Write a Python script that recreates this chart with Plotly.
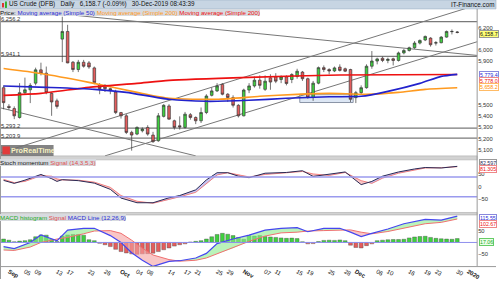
import pandas as pd
import plotly.graph_objects as go

# ---------------- data ----------------
dates = [d for d in pd.bdate_range("2019-08-30", "2020-01-02")
         if d.strftime("%Y-%m-%d") not in ("2019-12-25", "2020-01-01")]
date_str = [d.strftime("%Y-%m-%d") for d in dates]

opens = [5659, 5490, 5470, 5390, 5614, 5640, 5700, 5820, 5790, 5608, 5540, 6098, 6167, 5889, 5823, 5889, 5883,
         5838, 5683, 5680, 5650, 5620, 5434, 5405, 5255, 5240, 5270, 5300, 5231, 5180, 5400, 5494, 5360, 5315,
         5300, 5415, 5390, 5360, 5435, 5590, 5630, 5689, 5600, 5570, 5500, 5405, 5638, 5675, 5727, 5644, 5748,
         5757, 5733, 5757, 5733, 5760, 5800, 5740, 5570, 5700, 5840, 5823, 5810, 5845, 5830, 5823, 5569, 5614,
         5659, 5853, 5900, 5925, 5905, 5920, 5905, 5973, 5995, 6020, 6062, 6090, 6107, 6062, 6065, 6116, 6165, 6162]
highs = [5680, 5510, 5490, 5700, 5750, 5700, 5840, 5885, 5850, 5620, 5560, 6300, 6227, 5900, 5910, 5910, 5900,
         5850, 5700, 5690, 5660, 5640, 5440, 5420, 5270, 5310, 5300, 5320, 5260, 5430, 5510, 5510, 5370, 5400,
         5440, 5430, 5400, 5480, 5600, 5660, 5700, 5700, 5610, 5590, 5510, 5650, 5700, 5760, 5770, 5770, 5780,
         5790, 5770, 5770, 5790, 5830, 5810, 5750, 5720, 5850, 5860, 5835, 5850, 5870, 5840, 5830, 5630, 5680,
         5870, 5990, 5930, 5940, 5930, 5930, 5985, 6010, 6030, 6080, 6095, 6130, 6115, 6080, 6125, 6175, 6185, 6170]
lows = [5464, 5460, 5375, 5380, 5600, 5520, 5680, 5770, 5600, 5405, 5470, 5890, 5880, 5800, 5800, 5840, 5830,
        5690, 5600, 5620, 5600, 5420, 5380, 5240, 5090, 5230, 5255, 5225, 5160, 5170, 5390, 5370, 5280, 5280,
        5290, 5370, 5330, 5340, 5420, 5580, 5620, 5590, 5530, 5480, 5390, 5400, 5610, 5660, 5650, 5630, 5640,
        5700, 5700, 5680, 5700, 5740, 5720, 5560, 5540, 5690, 5800, 5780, 5800, 5805, 5800, 5530, 5520, 5600,
        5650, 5830, 5870, 5890, 5880, 5860, 5895, 5960, 5985, 6010, 6050, 6080, 6030, 6040, 6060, 6110, 6140, 6150]
closes = [5524, 5480, 5405, 5614, 5640, 5680, 5820, 5790, 5614, 5530, 5490, 6167, 5883, 5823, 5889, 5853, 5847,
          5704, 5650, 5650, 5638, 5434, 5405, 5255, 5231, 5300, 5285, 5240, 5172, 5405, 5500, 5375, 5300, 5305,
          5420, 5390, 5360, 5435, 5584, 5630, 5675, 5600, 5570, 5500, 5405, 5638, 5675, 5727, 5680, 5718, 5710,
          5718, 5757, 5697, 5778, 5808, 5740, 5570, 5700, 5840, 5823, 5810, 5838, 5815, 5808, 5554, 5614, 5659,
          5853, 5900, 5919, 5905, 5915, 5905, 5973, 5995, 6020, 6062, 6086, 6122, 6047, 6065, 6116, 6167, 6167, 6158.7]

# moving averages (read at sample dates)
ma50_dates = ["2019-08-30", "2019-09-11", "2019-09-24", "2019-10-02", "2019-10-14", "2019-10-23", "2019-11-04",
              "2019-11-13", "2019-11-25", "2019-12-03", "2019-12-10", "2019-12-18", "2019-12-24", "2019-12-30"]
ma50 = [5675, 5662, 5644, 5617, 5554, 5536, 5545, 5563, 5577, 5581, 5626, 5698, 5761, 5779.4]
ma200a_dates = ["2019-08-30", "2019-09-10", "2019-09-23", "2019-10-04", "2019-10-14", "2019-10-25", "2019-11-06",
                "2019-11-15", "2019-11-25", "2019-12-04", "2019-12-12", "2019-12-19", "2019-12-30"]
ma200a = [5832, 5787, 5707, 5617, 5563, 5554, 5581, 5599, 5608, 5599, 5617, 5644, 5658.2]
ma200b_dates = ["2019-08-30", "2019-09-10", "2019-09-23", "2019-10-04", "2019-10-14", "2019-11-04",
                "2019-11-27", "2019-12-30"]
ma200b = [5590, 5608, 5662, 5698, 5725, 5752, 5774, 5778.0]

# horizontal levels and trend lines
levels = [6256.2, 5941.1, 5293.2, 5203.9]
trend_lines = [  # (start date, start price, end date, end price)
    ("2019-09-12", 6334, "2020-01-03", 5949),
    ("2019-08-29", 5065, "2020-01-03", 6411),
    ("2019-09-26", 5043, "2020-01-03", 6078),
    ("2019-08-29", 5482, "2019-10-21", 5043),
]
box_zone = ("2019-11-18", 5525, "2019-11-29", 5600)

# stochastic momentum
stoch_dates = ["2019-08-30", "2019-09-03", "2019-09-05", "2019-09-10", "2019-09-12", "2019-09-13", "2019-09-16",
               "2019-09-19", "2019-09-24", "2019-09-27", "2019-10-01", "2019-10-04", "2019-10-09", "2019-10-14",
               "2019-10-16", "2019-10-21", "2019-10-23", "2019-10-25", "2019-10-29", "2019-10-31", "2019-11-04",
               "2019-11-07", "2019-11-13", "2019-11-18", "2019-11-20", "2019-11-25", "2019-11-28", "2019-12-03",
               "2019-12-05", "2019-12-09", "2019-12-12", "2019-12-17", "2019-12-19", "2019-12-24", "2019-12-30"]
stoch_main = [26, 14, 27, 50, 33, 22, 29, 25, 15, -10, -45, -64, -64, -44, -35, -12, 28, 57, 57, 43, 37, 55, 58,
              65, 42, 50, 60, 9, 22, 43, 60, 72, 78, 76, 82.597]
stoch_signal = [30, 17, 22, 45, 43, 32, 28, 27, 19, -2, -35, -58, -66, -52, -40, -22, 12, 48, 57, 50, 40, 50, 57,
                62, 52, 46, 58, 25, 14, 35, 55, 68, 76, 77, 81.305]

# MACD
macd_dates = ["2019-08-30", "2019-09-03", "2019-09-06", "2019-09-10", "2019-09-13", "2019-09-17", "2019-09-20",
              "2019-09-24", "2019-09-27", "2019-10-01", "2019-10-03", "2019-10-07", "2019-10-09", "2019-10-14",
              "2019-10-16", "2019-10-21", "2019-10-23", "2019-10-25", "2019-10-30", "2019-11-04", "2019-11-07",
              "2019-11-12", "2019-11-15", "2019-11-19", "2019-11-22", "2019-11-27", "2019-11-29", "2019-12-03",
              "2019-12-05", "2019-12-10", "2019-12-13", "2019-12-19", "2019-12-24", "2019-12-30"]
macd_line = [-18, -27, 0, 33, 7, 54, 62, 62, 30, 0, -45, -78, -105, -83, -80, -68, -48, -5, 15, 32, 54, 62, 65,
             47, 62, 62, 45, 26, 40, 59, 82, 101, 98, 115.55]
macd_signal = [-33, -35, -20, 0, 15, 22, 38, 50, 52, 40, 10, -25, -55, -75, -82, -78, -68, -50, -25, 5, 28, 42,
               45, 50, 52, 55, 55, 45, 38, 48, 62, 82, 88, 102.67]
macd_hist = [15, 10, 3, 6, 8, 12, 25, 33, 32, 14, 4, 28, 33, 35, 35, 32, 12, 8, -4, -10, -18, -30, -40, -46, -50,
             -52, -50, -49, -47, -40, -32, -24, -16, -10, -6, 2, 5, 8, 15, 25, 35, 40, 36, 30, 22, 14, 30, 28, 30,
             26, 24, 22, 20, 18, 19, 17, 3, -6, -5, 4, 9, 10, 9, 11, 8, -12, -22, -24, -14, -6, 8, 10, 12, 13, 13,
             14, 20, 24, 26, 27, 22, 18, 16, 15, 14, 17.06]

tick_dates = ["2019-09-02", "2019-09-05", "2019-09-09", "2019-09-13", "2019-09-17", "2019-09-23", "2019-09-26",
              "2019-10-01", "2019-10-04", "2019-10-08", "2019-10-14", "2019-10-17", "2019-10-21", "2019-10-25",
              "2019-10-29", "2019-11-01", "2019-11-07", "2019-11-11", "2019-11-15", "2019-11-19", "2019-11-25",
              "2019-11-28", "2019-12-02", "2019-12-06", "2019-12-10", "2019-12-16", "2019-12-19", "2019-12-23",
              "2019-12-30", "2020-01-02"]
tick_text = ["<b>Sep</b>", "05", "09", "13", "17", "23", "26", "<b>Oct</b>", "04", "08", "14", "17", "21", "25",
             "29", "<b>Nov</b>", "07", "11", "15", "19", "25", "28", "<b>Dec</b>", "06", "10", "16", "19", "23",
             "30", "<b>2020</b>"]
# price tick labels visible on the axis (others are hidden behind value boxes)
price_ticks = [5100, 5200, 5300, 5400, 5500, 5900, 6000, 6200]

# ---------------- helpers ----------------
pos = {d: i for i, d in enumerate(date_str)}


def ix(d):
    if d in pos:
        return pos[d]
    return float(len(pd.bdate_range("2019-08-30", d)) - 1 - (1 if d > "2019-12-25" else 0))


def PX(x):
    return x / 500.0


def PY(y):
    return 1 - y / 281.0


def fill_polys(xs, a, b):
    up_x, up_y, dn_x, dn_y = [], [], [], []
    for k in range(len(xs) - 1):
        x0, x1 = xs[k], xs[k + 1]
        a0, a1, b0, b1 = a[k], a[k + 1], b[k], b[k + 1]
        d0, d1 = a0 - b0, a1 - b1
        if d0 * d1 >= 0:
            tx, ty = (up_x, up_y) if (d0 + d1) >= 0 else (dn_x, dn_y)
            tx += [x0, x1, x1, x0, x0, None]
            ty += [a0, a1, b1, b0, a0, None]
        else:
            t = d0 / (d0 - d1)
            xc = x0 + t * (x1 - x0)
            yc = a0 + t * (a1 - a0)
            tx, ty = (up_x, up_y) if d0 > 0 else (dn_x, dn_y)
            tx += [x0, xc, x0, x0, None]
            ty += [a0, yc, b0, a0, None]
            tx, ty = (up_x, up_y) if d1 > 0 else (dn_x, dn_y)
            tx += [xc, x1, x1, xc, None]
            ty += [yc, a1, b1, yc, None]
    return up_x, up_y, dn_x, dn_y


N = len(closes)
xi = list(range(N))
FONT = "Liberation Sans, Arial, sans-serif"

fig = go.Figure()

fig.add_shape(type="rect", xref="x", yref="y", x0=ix(box_zone[0]) - 0.5, x1=ix(box_zone[2]) + 0.5,
              y0=box_zone[1], y1=box_zone[3], fillcolor="#dce6f4", line=dict(color="#8a94a6", width=1),
              layer="below")
for lv in levels:
    fig.add_shape(type="line", xref="x domain", yref="y", x0=0, x1=1, y0=lv, y1=lv,
                  line=dict(color="#7a7a7a", width=1.3), layer="below")
for d0, p0, d1, p1 in trend_lines:
    fig.add_shape(type="line", xref="x", yref="y", x0=ix(d0), y0=p0, x1=ix(d1), y1=p1,
                  line=dict(color="#777777", width=1), layer="below")

fig.add_trace(go.Scatter(x=[ix(d) for d in ma200a_dates], y=ma200a, mode="lines", yaxis="y",
                         line=dict(color="#ff9a1f", width=1.6, shape="spline", smoothing=0.6)))
fig.add_trace(go.Scatter(x=[ix(d) for d in ma200b_dates], y=ma200b, mode="lines", yaxis="y",
                         line=dict(color="#ee1111", width=1.6, shape="spline", smoothing=0.6)))
fig.add_trace(go.Scatter(x=[ix(d) for d in ma50_dates], y=ma50, mode="lines", yaxis="y",
                         line=dict(color="#2222cc", width=1.6, shape="spline", smoothing=0.6)))

fig.add_trace(go.Candlestick(x=xi, open=opens, high=highs, low=lows, close=closes, yaxis="y",
                             increasing=dict(line=dict(color="#3a3a3a", width=0.7), fillcolor="#3fd03f"),
                             decreasing=dict(line=dict(color="#3a3a3a", width=0.7), fillcolor="#e45d5d"),
                             whiskerwidth=0))

sx = [ix(d) for d in stoch_dates]
ux, uy, dx, dy = fill_polys(sx, stoch_main, stoch_signal)
fig.add_trace(go.Scatter(x=ux, y=uy, yaxis="y2", fill="toself", fillcolor="rgba(150,150,235,0.55)",
                         line=dict(width=0), mode="lines", hoverinfo="skip"))
fig.add_trace(go.Scatter(x=dx, y=dy, yaxis="y2", fill="toself", fillcolor="rgba(245,160,160,0.6)",
                         line=dict(width=0), mode="lines", hoverinfo="skip"))
fig.add_trace(go.Scatter(x=sx, y=stoch_signal, yaxis="y2", mode="lines",
                         line=dict(color="#f08080", width=1)))
fig.add_trace(go.Scatter(x=sx, y=stoch_main, yaxis="y2", mode="lines",
                         line=dict(color="#2a2a55", width=1)))
for lv in (40, -40):
    fig.add_shape(type="line", xref="x domain", yref="y2", x0=0, x1=1, y0=lv, y1=lv,
                  line=dict(color="#9a9aee", width=1.5))

fig.add_shape(type="line", xref="x domain", yref="y3", x0=0, x1=1, y0=0, y1=0,
              line=dict(color="#8f8fee", width=1))
fig.add_trace(go.Bar(x=xi, y=macd_hist, yaxis="y3", width=0.72,
                     marker=dict(color=["#3fd03f" if v >= 0 else "#e45d5d" for v in macd_hist],
                                 line=dict(color="#4a4a4a", width=0.4))))
mx = [ix(d) for d in macd_dates]
ux, uy, dx, dy = fill_polys(mx, macd_line, macd_signal)
fig.add_trace(go.Scatter(x=ux, y=uy, yaxis="y3", fill="toself", fillcolor="rgba(140,235,140,0.6)",
                         line=dict(width=0), mode="lines", hoverinfo="skip"))
fig.add_trace(go.Scatter(x=dx, y=dy, yaxis="y3", fill="toself", fillcolor="rgba(245,160,160,0.6)",
                         line=dict(width=0), mode="lines", hoverinfo="skip"))
fig.add_trace(go.Scatter(x=mx, y=macd_signal, yaxis="y3", mode="lines", line=dict(color="#f07070", width=1)))
fig.add_trace(go.Scatter(x=mx, y=macd_line, yaxis="y3", mode="lines", line=dict(color="#4646f0", width=1.2)))

# ---------------- layout ----------------
y_main = [6200 - (157 - 28) / 0.1115, 6200 + (28 - 9) / 0.1115]
tf = dict(family=FONT, size=5.8, color="#333333")
fig.update_layout(
    width=500, height=281, margin=dict(l=0, r=0, t=0, b=0),
    paper_bgcolor="white", plot_bgcolor="white", showlegend=False, bargap=0.3,
    xaxis=dict(domain=[0, 481 / 500], range=[-0.67, 88.73], anchor="y3", showgrid=False, zeroline=False,
               tickvals=[ix(d) for d in tick_dates], ticktext=tick_text,
               tickfont=dict(family=FONT, size=6, color="#222"),
               ticks="", ticklen=0, rangeslider=dict(visible=False), fixedrange=True),
    yaxis=dict(domain=[PY(157), PY(9)], range=y_main, side="right", anchor="x", showgrid=False, zeroline=False,
               tickvals=price_ticks, ticktext=[f"{v:,}" for v in price_ticks], tickfont=tf, ticks=""),
    yaxis2=dict(domain=[PY(214), PY(161)], range=[-103.2, 108.8], side="right", anchor="x", showgrid=False,
                zeroline=False, tickvals=[50, 0, -50], tickfont=tf, ticks=""),
    yaxis3=dict(domain=[PY(268), PY(216)], range=[-103.5, 122.6], side="right", anchor="x", showgrid=False,
                zeroline=False, tickvals=[50, -50], tickfont=tf, ticks=""),
)

shapes_px = [
    dict(x0=0, x1=500, y0=0, y1=9, fill="#c7d5e3", line="#9fb2c6"),
    dict(x0=0, x1=481, y0=157, y1=161, fill="#d2d2d2", line="#a9a9a9"),
    dict(x0=0, x1=481, y0=214, y1=216.5, fill="#d2d2d2", line="#a9a9a9"),
]
for s in shapes_px:
    fig.add_shape(type="rect", xref="paper", yref="paper", x0=PX(s["x0"]), x1=PX(s["x1"]),
                  y0=PY(s["y1"]), y1=PY(s["y0"]), fillcolor=s["fill"], line=dict(color=s["line"], width=0.6))
fig.add_shape(type="line", xref="paper", yref="paper", x0=PX(481), x1=PX(481), y0=PY(268), y1=PY(9),
              line=dict(color="#9a9a9a", width=1))
fig.add_shape(type="line", xref="paper", yref="paper", x0=0, x1=PX(500), y0=PY(268.5), y1=PY(268.5),
              line=dict(color="#9a9a9a", width=1))
fig.add_shape(type="line", xref="paper", yref="paper", x0=PX(0.5), x1=PX(0.5), y0=PY(281), y1=PY(9),
              line=dict(color="#9a9a9a", width=1))
fig.add_shape(type="rect", xref="paper", yref="paper", x0=PX(2), x1=PX(4), y0=PY(7.5), y1=PY(3),
              fillcolor="#e03030", line=dict(width=0))
fig.add_shape(type="rect", xref="paper", yref="paper", x0=PX(5), x1=PX(7), y0=PY(8), y1=PY(1.5),
              fillcolor="#30b030", line=dict(width=0))


def txt(x, y, text, size=6.5, color="#111", bg=None, border=None, xanchor="left", bold=False):
    fig.add_annotation(xref="paper", yref="paper", x=PX(x), y=PY(y), text=("<b>%s</b>" % text) if bold else text,
                       showarrow=False, xanchor=xanchor, yanchor="middle",
                       font=dict(family=FONT, size=size, color=color),
                       bgcolor=bg, bordercolor=border, borderwidth=1 if border else 0, borderpad=0)


txt(9, 4.5, "US Crude (DFB)&nbsp;&nbsp;&nbsp;Daily&nbsp;&nbsp;&nbsp;6,158.7 (-0.09%)&nbsp;&nbsp;&nbsp;30-Dec-2019 08:43:39",
    size=6.3)
txt(498, 4.5, "IT-Finance.com", size=6.3, xanchor="right")
txt(0.5, 12.5, "Price: <span style='color:#2b2bd6'>Moving average (Simple 50)</span> "
               "<span style='color:#ff9a1f'>Moving average (Simple 200)</span> "
               "<span style='color:#ee1111'>Moving average (Simple 200)</span>", size=6.2, bg="#d8dbe0")
txt(0.5, 164, "Stoch momentum <span style='color:#e05050'>Signal (14,3,5,3)</span>", size=6.2, bg="#d8dbe0")
txt(0.5, 219.5, "<span style='color:#22aa22'>MACD histogram</span> <span style='color:#e05050'>Signal</span> "
                "<span style='color:#2b2bd6'>MACD Line (12,26,9)</span>", size=6.2, bg="#d8dbe0")

for lv in levels:
    ypix = 28 + (6200 - lv) * 0.1115
    txt(1.5, ypix - 2.5, f"{lv:,.1f}", size=5.8, color="#333")

BS = 5.3
txt(483, 34.5, "6,158.7", size=BS, color="#111", bg="#ffff77", border="#999")
txt(483, 76, "5,779.4", size=BS, color="#2b2bd6", bg="white", border="#8888dd")
txt(483, 82, "5,778.0", size=BS, color="#ee1111", bg="white", border="#ee8888")
txt(483, 88, "5,658.2", size=BS, color="#ff8c00", bg="white", border="#ffbb66")
txt(483, 164, "82.597", size=BS, color="#2a2a55", bg="white", border="#999")
txt(483, 170, "81.305", size=BS, color="#ee1111", bg="white", border="#ee8888")
txt(483, 219.5, "115.55", size=BS, color="#2b2bd6", bg="white", border="#8888dd")
txt(483, 225.5, "102.67", size=BS, color="#ee1111", bg="white", border="#ee8888")
txt(483, 243.5, "17.06", size=BS, color="#22aa22", bg="#eaffea", border="#66cc66")

fig.add_shape(type="rect", xref="paper", yref="paper", x0=PX(1), x1=PX(54), y0=PY(157), y1=PY(146),
              fillcolor="rgba(110,110,110,0.85)", line=dict(width=0))
fig.add_shape(type="rect", xref="paper", yref="paper", x0=PX(2.5), x1=PX(10), y0=PY(155.5), y1=PY(147.5),
              fillcolor="#e23b3b", line=dict(width=0))
txt(11.5, 151.5, "ProRealTime", size=7.2, color="#f5f0c0", bold=True)

fig.write_html("out.html")
